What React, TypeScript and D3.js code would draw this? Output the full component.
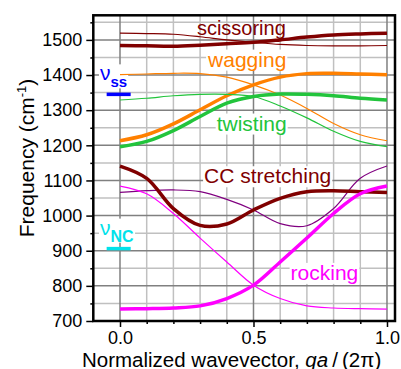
import React, { useEffect, useRef } from "react";
import * as d3 from "d3";

// wavevector samples, qa/(2pi)
const qValues = [0, 0.1, 0.2, 0.3, 0.4, 0.5, 0.6, 0.7, 0.8, 0.9, 1.0];

// frequencies in cm-1, read at each q
const scissoringThick = [1484, 1483, 1482, 1485, 1489, 1493, 1500, 1508, 1514, 1517, 1519];
const scissoringThin = [1519, 1518, 1516, 1509, 1500, 1493, 1487, 1484, 1483, 1483, 1484];
const waggingThick = [1213, 1230, 1261, 1301, 1341, 1372, 1394, 1404, 1405, 1403, 1401];
const waggingThin = [1401, 1403, 1405, 1404, 1394, 1372, 1343, 1305, 1262, 1230, 1213];
const twistingThick = [1196, 1211, 1242, 1282, 1320, 1339, 1346, 1345, 1341, 1334, 1329];
const twistingThin = [1329, 1334, 1341, 1345, 1345, 1339, 1312, 1278, 1240, 1211, 1196];
const stretchingThick = [1141, 1106, 1020, 972, 976, 1016, 1049, 1068, 1071, 1068, 1066];
const stretchingThin = [1066, 1071, 1073, 1068, 1046, 1016, 977, 971, 1020, 1106, 1141];
const rockingThick = [734, 735, 737, 743, 764, 802, 868, 936, 1006, 1062, 1084];
const rockingThin = [1084, 1062, 1006, 936, 868, 802, 764, 743, 737, 735, 734];

const nuSS = 1345;
const nuNC = 906;

const yTicks = [700, 800, 900, 1000, 1100, 1200, 1300, 1400, 1500];
const yMinorTicks = [750, 850, 950, 1050, 1150, 1250, 1350, 1450, 1550];
const xTicks = [0, 0.5, 1.0];
const xMinorTicks = [-0.1, 0.1, 0.2, 0.3, 0.4, 0.6, 0.7, 0.8, 0.9];

const DARKRED = "#800000";
const ORANGE = "#ff8000";
const GREEN = "#22c43c";
const PURPLE = "#800080";
const MAGENTA = "#ff00ff";
const BLUE = "#0000ff";
const CYAN = "#00e2ea";

const series = [
  { values: scissoringThin, color: DARKRED, width: 1.2 },
  { values: scissoringThick, color: DARKRED, width: 3.5 },
  { values: waggingThin, color: ORANGE, width: 1.2 },
  { values: waggingThick, color: ORANGE, width: 3.5 },
  { values: twistingThin, color: GREEN, width: 1.2 },
  { values: twistingThick, color: GREEN, width: 3.5 },
  { values: stretchingThin, color: PURPLE, width: 1.2 },
  { values: stretchingThick, color: DARKRED, width: 3.5 },
  { values: rockingThin, color: MAGENTA, width: 1.2 },
  { values: rockingThick, color: MAGENTA, width: 3.5 },
];

const labels = [
  { text: "scissoring", q: 0.288, v: 1514, color: DARKRED, size: 20, box: false },
  { text: "wagging", q: 0.33, v: 1424, color: ORANGE, size: 21, box: true },
  { text: "twisting", q: 0.362, v: 1242, color: GREEN, size: 21, box: true },
  { text: "CC stretching", q: 0.315, v: 1092, color: DARKRED, size: 21, box: true },
  { text: "rocking", q: 0.639, v: 817, color: MAGENTA, size: 21, box: true },
];

const FONT = "'Liberation Sans', Arial, sans-serif";

export default function App() {
  const ref = useRef<SVGSVGElement>(null);

  useEffect(() => {
    const svg = d3.select(ref.current);
    svg.selectAll("*").remove();

    const x = d3.scaleLinear().domain([-0.1, 1.03]).range([93.3, 395]);
    const y = d3.scaleLinear().domain([700, 1570]).range([321, 15.3]);
    const [x0, x1] = x.range();
    const [y0, y1] = y.range();

    const g = svg.append("g").style("font-family", FONT);

    // grid
    const grid = g.append("g");
    xMinorTicks.forEach(t =>
      grid.append("line").attr("x1", x(t)).attr("x2", x(t)).attr("y1", y0).attr("y2", y1)
        .attr("stroke", "#c0c0c0").attr("stroke-width", 1.5));
    yMinorTicks.forEach(t =>
      grid.append("line").attr("x1", x0).attr("x2", x1).attr("y1", y(t)).attr("y2", y(t))
        .attr("stroke", "#c0c0c0").attr("stroke-width", 1.5));
    xTicks.forEach(t =>
      grid.append("line").attr("x1", x(t)).attr("x2", x(t)).attr("y1", y0).attr("y2", y1)
        .attr("stroke", "#808080").attr("stroke-width", 1.5));
    yTicks.forEach(t =>
      grid.append("line").attr("x1", x0).attr("x2", x1).attr("y1", y(t)).attr("y2", y(t))
        .attr("stroke", "#808080").attr("stroke-width", 1.5));

    const boxLayer = g.append("g");
    const curveLayer = g.append("g");
    const textLayer = g.append("g");

    // dispersion curves
    const line = d3.line<number>()
      .x((d, i) => x(qValues[i]))
      .y(d => y(d))
      .curve(d3.curveCatmullRom.alpha(0.5));

    series.forEach(s => {
      curveLayer.append("path")
        .attr("d", line(s.values))
        .attr("fill", "none")
        .attr("stroke", s.color)
        .attr("stroke-width", s.width);
    });

    // mode labels with white boxes
    labels.forEach(l => {
      const t = textLayer.append("text")
        .attr("x", x(l.q))
        .attr("y", y(l.v))
        .attr("fill", l.color)
        .style("font-size", l.size + "px")
        .text(l.text);
      if (l.box) {
        const b = (t.node() as SVGTextElement).getBBox();
        boxLayer.append("rect")
          .attr("x", b.x - 1).attr("y", b.y + 2)
          .attr("width", b.width + 2).attr("height", b.height - 2)
          .attr("fill", "white");
      }
    });

    // nu markers
    const nuMarks = [
      { v: nuSS, sub: "ss", color: BLUE, subSize: 15, lift: 14 },
      { v: nuNC, sub: "NC", color: CYAN, subSize: 16, lift: 14 },
    ];
    nuMarks.forEach(m => {
      const t = textLayer.append("text")
        .attr("x", x(-0.075))
        .attr("y", y(m.v) - m.lift)
        .attr("fill", m.color);
      t.append("tspan").style("font-size", "21px").text("ν");
      t.append("tspan").attr("dy", 7).style("font-size", m.subSize + "px")
        .style("font-weight", "bold").text(m.sub);
      const b = (t.node() as SVGTextElement).getBBox();
      boxLayer.append("rect")
        .attr("x", b.x - 1).attr("y", b.y + 3)
        .attr("width", b.width + 2).attr("height", b.height - 5)
        .attr("fill", "white");
      textLayer.append("line")
        .attr("x1", x(-0.05)).attr("x2", x(0.04))
        .attr("y1", y(m.v)).attr("y2", y(m.v))
        .attr("stroke", m.color).attr("stroke-width", 3.5);
    });

    // axes ticks
    const styleAxis = (sel: any) => {
      sel.select(".domain").remove();
      sel.selectAll(".tick line").attr("stroke", "black").attr("stroke-width", 1.5);
      sel.selectAll(".tick text").attr("fill", "black").style("font-size", "18px")
        .style("font-family", FONT);
    };

    g.append("g").attr("transform", `translate(${x0},0)`)
      .call(d3.axisLeft(y).tickValues(yTicks).tickSize(7).tickPadding(4).tickFormat(d3.format("d")))
      .call(styleAxis);
    g.append("g").attr("transform", `translate(${x0},0)`)
      .call(d3.axisLeft(y).tickValues(yMinorTicks).tickSize(3).tickFormat(() => ""))
      .call(styleAxis);
    g.append("g").attr("transform", `translate(0,${y0})`)
      .call(d3.axisBottom(x).tickValues(xTicks).tickSize(6).tickPadding(4.5).tickFormat(d3.format(".1f")))
      .call(styleAxis);
    g.append("g").attr("transform", `translate(0,${y0})`)
      .call(d3.axisBottom(x).tickValues(xMinorTicks.filter(t => t > -0.1)).tickSize(3).tickFormat(() => ""))
      .call(styleAxis);

    // frame
    g.append("rect")
      .attr("x", x0).attr("y", y1)
      .attr("width", x1 - x0).attr("height", y0 - y1)
      .attr("fill", "none").attr("stroke", "black").attr("stroke-width", 2.5);

    // axis titles
    const yt = g.append("text")
      .attr("transform", "translate(33.5,158) rotate(-90)")
      .attr("text-anchor", "middle")
      .style("font-size", "21px")
      .attr("fill", "black");
    yt.append("tspan").text("Frequency (cm");
    yt.append("tspan").attr("dy", -8).style("font-size", "13px").text("-1");
    yt.append("tspan").attr("dy", 8).text(")");

    const xt = g.append("text")
      .attr("x", 82).attr("y", 366.5)
      .style("font-size", "20.5px")
      .attr("fill", "black");
    xt.append("tspan").text("Normalized wavevector, ");
    xt.append("tspan").style("font-style", "italic").text("qa");
    xt.append("tspan").text("\u2009/\u2009(2π)");
  }, []);

  return (
    <svg
      ref={ref}
      width={401}
      height={369}
      style={{ position: "absolute", left: 0, top: 0, background: "white" }}
    />
  );
}
